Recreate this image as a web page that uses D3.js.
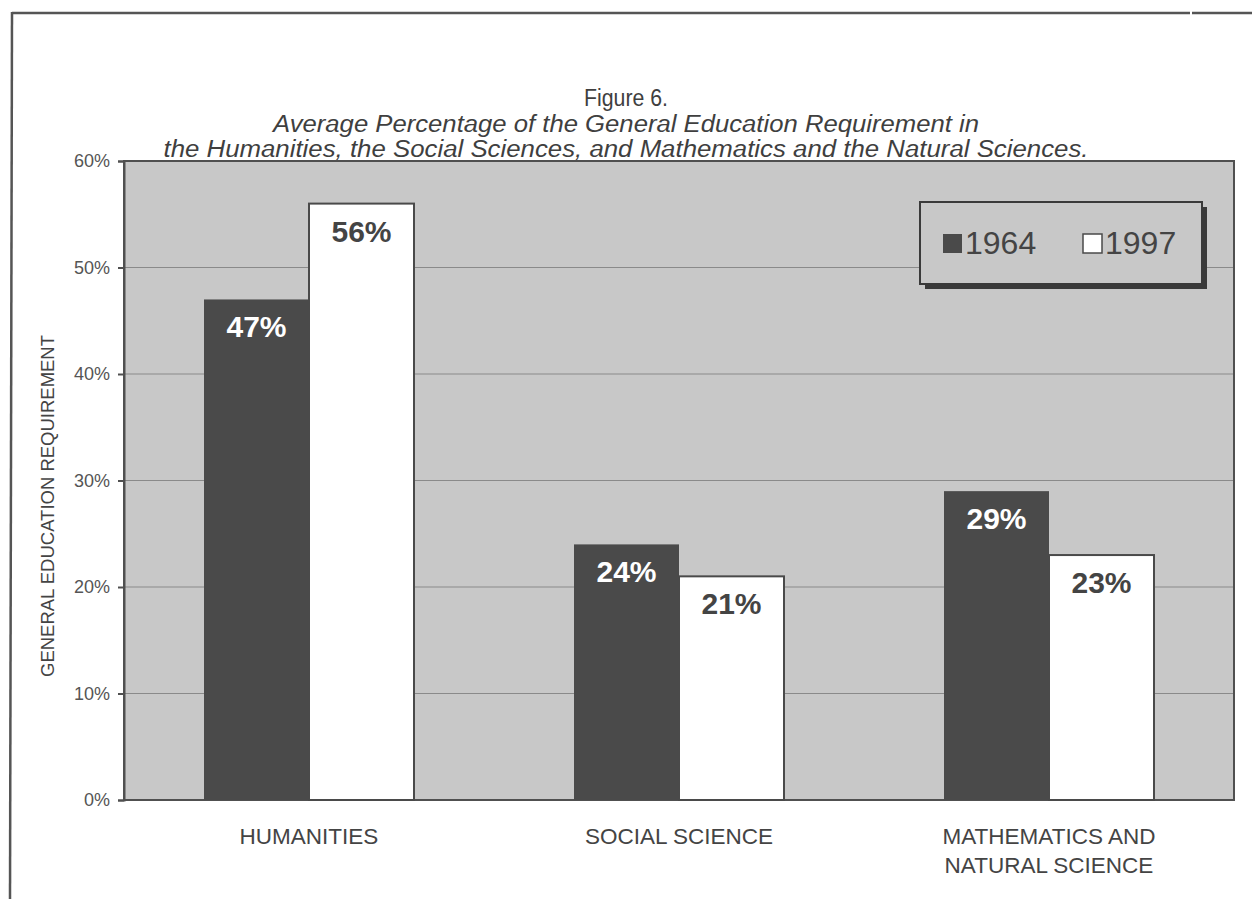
<!DOCTYPE html>
<html>
<head>
<meta charset="utf-8">
<script src="https://cdn.jsdelivr.net/npm/d3@7/dist/d3.min.js"></script>
<style>
  html, body { margin: 0; padding: 0; background: #ffffff; }
  svg { display: block; }
  text { font-family: "Liberation Sans", Arial, Helvetica, sans-serif; }
</style>
</head>
<body>
<svg id="chart" width="1252" height="899"></svg>
<script>
// Chart data
const categories = [["HUMANITIES"], ["SOCIAL SCIENCE"], ["MATHEMATICS AND", "NATURAL SCIENCE"]];
const seriesNames = ["1964", "1997"];
const values1964 = [47, 24, 29];
const values1997 = [56, 21, 23];
const yTicks = [0, 10, 20, 30, 40, 50, 60];
const titleLines = [
  "Figure 6.",
  "Average Percentage of the General Education Requirement in",
  "the Humanities, the Social Sciences, and Mathematics and the Natural Sciences."
];
const yAxisTitle = "GENERAL EDUCATION REQUIREMENT";

const svg = d3.select("#chart");
const W = 1252, H = 899;
const plot = { left: 124, top: 161, right: 1234, bottom: 800 };

const ink = "#3f3f3f";
const dark = "#4a4a4a";
const panel = "#c8c8c8";

// Page frame (top and left rules)
svg.append("line").attr("x1", 12).attr("x2", 1190).attr("y1", 13).attr("y2", 13)
  .attr("stroke", "#555").attr("stroke-width", 2.5);
svg.append("line").attr("x1", 1192).attr("x2", W).attr("y1", 13).attr("y2", 13)
  .attr("stroke", "#555").attr("stroke-width", 2.5);
svg.append("line").attr("x1", 12).attr("x2", 10).attr("y1", 12).attr("y2", H)
  .attr("stroke", "#555").attr("stroke-width", 2.5);

// Title
const titleY = [106, 132, 157];
const titleW = [84, 706, 925];
titleLines.forEach((t, i) => {
  svg.append("text")
    .attr("x", 626).attr("y", titleY[i])
    .attr("text-anchor", "middle")
    .attr("font-size", 23)
    .attr("font-style", i === 0 ? "normal" : "italic")
    .attr("fill", ink)
    .attr("textLength", titleW[i])
    .attr("lengthAdjust", "spacingAndGlyphs")
    .text(t);
});

// Scales
const x0 = d3.scaleBand()
  .domain(d3.range(categories.length))
  .range([plot.left, plot.right])
  .paddingInner(0)
  .paddingOuter(0);
const barW = 105;
const x1 = d3.scaleBand().domain(seriesNames).range([0, barW * 2]);
const y = d3.scaleLinear().domain([0, 60]).range([plot.bottom, plot.top]);

// Plot panel
svg.append("rect")
  .attr("x", plot.left).attr("y", plot.top)
  .attr("width", plot.right - plot.left).attr("height", plot.bottom - plot.top)
  .attr("fill", panel);

// Gridlines
svg.append("g").selectAll("line")
  .data(yTicks.filter(d => d > 0 && d < 60))
  .join("line")
  .attr("x1", plot.left).attr("x2", plot.right)
  .attr("y1", d => y(d)).attr("y2", d => y(d))
  .attr("stroke", "#8a8a8a").attr("stroke-width", 1);

// Panel border
svg.append("rect")
  .attr("x", plot.left).attr("y", plot.top)
  .attr("width", plot.right - plot.left).attr("height", plot.bottom - plot.top)
  .attr("fill", "none").attr("stroke", "#505050").attr("stroke-width", 2);

// Y axis
const yAxis = d3.axisLeft(y).tickValues(yTicks).tickSize(6).tickPadding(8)
  .tickFormat(d => d + "%");
const gy = svg.append("g").attr("transform", `translate(${plot.left},0)`).call(yAxis);
gy.select(".domain").attr("stroke", "#505050").attr("stroke-width", 2);
gy.selectAll(".tick line").attr("stroke", "#505050").attr("stroke-width", 2);
gy.selectAll(".tick text").attr("font-size", 18).attr("fill", "#555")
  .attr("font-family", "Liberation Sans, Arial, sans-serif");

// Y axis title
svg.append("text")
  .attr("transform", `translate(54,506) rotate(-90)`)
  .attr("text-anchor", "middle")
  .attr("font-size", 19)
  .attr("fill", "#444")
  .attr("textLength", 342)
  .attr("lengthAdjust", "spacingAndGlyphs")
  .text(yAxisTitle);

// Bars
const groupOffset = (x0.bandwidth() - barW * 2) / 2;
const rows = categories.map((c, i) => ({ i, vals: [values1964[i], values1997[i]] }));
const groups = svg.append("g").selectAll("g")
  .data(rows).join("g")
  .attr("transform", d => `translate(${x0(d.i) + groupOffset},0)`);

groups.selectAll("rect")
  .data(d => d.vals.map((v, k) => ({ v, k })))
  .join("rect")
  .attr("x", d => x1(seriesNames[d.k]))
  .attr("y", d => y(d.v))
  .attr("width", barW)
  .attr("height", d => y(0) - y(d.v))
  .attr("fill", d => d.k === 0 ? dark : "#ffffff")
  .attr("stroke", d => d.k === 0 ? "none" : "#4a4a4a")
  .attr("stroke-width", 2);

groups.selectAll("text.val")
  .data(d => d.vals.map((v, k) => ({ v, k })))
  .join("text")
  .attr("class", "val")
  .attr("x", d => x1(seriesNames[d.k]) + barW / 2)
  .attr("y", d => y(d.v) + 38)
  .attr("text-anchor", "middle")
  .attr("font-size", 30)
  .attr("font-weight", "bold")
  .attr("fill", d => d.k === 0 ? "#ffffff" : "#444")
  .text(d => d.v + "%");

// Category labels
categories.forEach((lines, i) => {
  const cx = x0(i) + x0.bandwidth() / 2;
  lines.forEach((t, j) => {
    svg.append("text")
      .attr("x", cx).attr("y", 844 + j * 29)
      .attr("text-anchor", "middle")
      .attr("font-size", 22.5)
      .attr("fill", "#444")
      .text(t);
  });
});

// Legend
const lg = { x: 920, y: 202, w: 282, h: 82 };
svg.append("rect").attr("x", lg.x + 5).attr("y", lg.y + 5).attr("width", lg.w).attr("height", lg.h)
  .attr("fill", "#3a3a3a");
svg.append("rect").attr("x", lg.x).attr("y", lg.y).attr("width", lg.w).attr("height", lg.h)
  .attr("fill", panel).attr("stroke", "#3a3a3a").attr("stroke-width", 2);
const legendX = [943, 1083];
seriesNames.forEach((name, k) => {
  svg.append("rect")
    .attr("x", legendX[k]).attr("y", 234).attr("width", 19).attr("height", 19)
    .attr("fill", k === 0 ? dark : "#ffffff")
    .attr("stroke", "#4a4a4a").attr("stroke-width", k === 0 ? 0 : 1.5);
  svg.append("text")
    .attr("x", legendX[k] + 22).attr("y", 254)
    .attr("font-size", 32)
    .attr("fill", "#444")
    .text(name);
});
</script>
</body>
</html>
